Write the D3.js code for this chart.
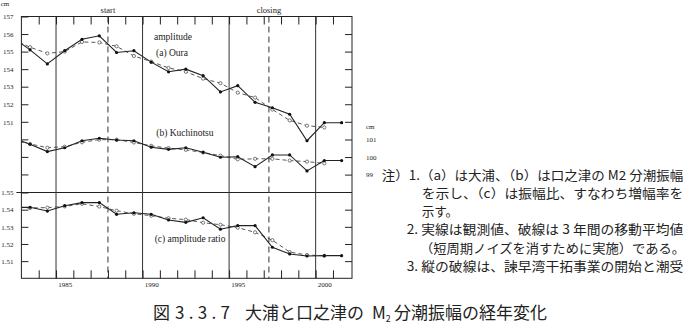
<!DOCTYPE html>
<html>
<head>
<meta charset="utf-8">
<script src="https://cdn.jsdelivr.net/npm/d3@7"></script>
<style>
  body { margin: 0; background: #fff; }
  svg { display: block; }
  .ax text { font-family: "Liberation Serif", "DejaVu Serif", serif; font-size: 7px; fill: #222; }
  .ax line { stroke: #222; }
  .lbl { font-family: "Liberation Serif", "DejaVu Serif", serif; font-size: 9.5px; fill: #222; }
  .jp { font-family: "Noto Sans CJK JP", sans-serif; fill: #222; }
</style>
</head>
<body>
<div id="grafico"></div>
<script>
// --- data (mid-year positions) ---
const years = [1982.5, 1983.5, 1984.5, 1985.5, 1986.5, 1987.5, 1988.5, 1989.5, 1990.5, 1991.5,
               1992.5, 1993.5, 1994.5, 1995.5, 1996.5, 1997.5, 1998.5, 1999.5, 2000.5, 2001.5];

// (a) Oura amplitude, cm
const ouraObs = [155.8, 155.1, 154.3, 155.05, 155.7, 155.9, 154.95, 155.05, 154.4, 153.85,
                 154.0, 153.63, 152.7, 153.06, 152.11, 151.8, 151.43, 149.92, 150.95, 150.95];
const ouraAvg = [155.7, 155.25, 154.9, 155.0, 155.55, 155.52, 155.3, 154.75, 154.43, 154.07,
                 153.85, 153.46, 153.2, 152.66, 152.38, 151.7, 151.08, 150.78, 150.68, null];

// (b) Kuchinotsu amplitude, cm
const kuchiObs = [101.1, 100.73, 100.31, 100.53, 100.93, 101.07, 100.97, 100.93, 100.56, 100.44,
                  100.53, 100.27, 99.99, 100.02, 99.45, 100.12, 100.12, 99.21, 99.8, 99.8];
const kuchiAvg = [100.95, 100.75, 100.53, 100.59, 100.84, 100.99, 100.99, 100.83, 100.64, 100.51,
                  100.41, 100.26, 100.08, 99.87, 99.9, 99.9, 99.8, 99.74, 99.64, null];

// (c) amplitude ratio
const ratioObs = [1.5413, 1.5414, 1.5392, 1.5423, 1.5441, 1.5441, 1.5373, 1.5382, 1.5373, 1.5340,
                  1.5326, 1.5353, 1.5286, 1.5307, 1.5307, 1.5181, 1.5142, 1.5130, 1.5132, 1.5132];
const ratioAvg = [1.5415, 1.5410, 1.5412, 1.5419, 1.5434, 1.5418, 1.5394, 1.5376, 1.5365, 1.5350,
                  1.5342, 1.5324, 1.5312, 1.5295, 1.5268, 1.5222, 1.5153, 1.5136, 1.5131, null];

// axis ticks and labels
const yearTicks   = [1984, 1985, 1986, 1987, 1988, 1989, 1990, 1991, 1992, 1993,
                     1994, 1995, 1996, 1997, 1998, 1999, 2000, 2001];
const yearLabels  = ["1985", "1990", "1995", "2000"];
const yearLabelAt = [1985.5, 1990.5, 1995.5, 2000.5];
const gridYears   = [1985, 1990, 1995, 2000];
const eventYears  = [1988.0, 1997.3];
const eventLabels = ["start", "closing"];
const ouraTicks   = [151, 152, 153, 154, 155, 156, 157];
const ouraExtra   = [148, 149, 150];
const kuchiTicks  = [99, 100, 101];
const ratioTicks  = [1.51, 1.52, 1.53, 1.54, 1.55];

const notes = [
  "注）1.（a）は大浦、（b）は口之津の M2 分潮振幅",
  "を示し、（c）は振幅比、すなわち増幅率を",
  "示す。",
  "2. 実線は観測値、破線は 3 年間の移動平均値",
  "（短周期ノイズを消すために実施）である。",
  "3. 縦の破線は、諫早湾干拓事業の開始と潮受"
];

// --- layout ---
const W = 689, H = 323;
const frame = { left: 21.4, right: 352, top: 16.5, bottom: 278.3 };

const svg = d3.select("#grafico")
              .append("svg")
              .attr("width", W)
              .attr("height", H);

const x = d3.scaleLinear().domain([1983, 2002.1]).range([frame.left, frame.right]);
const yA = d3.scaleLinear().domain([151, 157]).range([121.8, frame.top]);
const yB = d3.scaleLinear().domain([99, 101]).range([174.6, 139.5]);
const yC = d3.scaleLinear().domain([1.50, 1.55]).range([frame.bottom, 192.5]);

svg.append("defs").append("clipPath").attr("id", "clip")
   .append("rect")
   .attr("x", frame.left).attr("y", frame.top)
   .attr("width", frame.right - frame.left)
   .attr("height", frame.bottom - frame.top);

// frame
svg.append("rect")
   .attr("x", frame.left).attr("y", frame.top)
   .attr("width", frame.right - frame.left)
   .attr("height", frame.bottom - frame.top)
   .attr("fill", "none").attr("stroke", "#222").attr("stroke-width", 1);

// panel separator at 1.55
svg.append("line")
   .attr("x1", frame.left - 5).attr("x2", frame.right)
   .attr("y1", yC(1.55)).attr("y2", yC(1.55))
   .attr("stroke", "#222").attr("stroke-width", 1);

// 5-year solid verticals
svg.append("g").selectAll("line")
   .data(gridYears).join("line")
   .attr("x1", d => x(d)).attr("x2", d => x(d))
   .attr("y1", frame.top).attr("y2", frame.bottom)
   .attr("stroke", "#333").attr("stroke-width", 1);

// event dashed verticals
svg.append("g").selectAll("line")
   .data(eventYears).join("line")
   .attr("x1", d => x(d)).attr("x2", d => x(d))
   .attr("y1", frame.top).attr("y2", frame.bottom)
   .attr("stroke", "#333").attr("stroke-width", 1)
   .attr("stroke-dasharray", "6,4");

svg.append("g").selectAll("text")
   .data(eventYears).join("text")
   .attr("class", "lbl")
   .attr("x", d => x(d)).attr("y", 12.5)
   .attr("text-anchor", "middle")
   .style("font-size", "8.5px")
   .text((d, i) => eventLabels[i]);

// top / bottom inward ticks
const tidy = g => { g.select(".domain").remove(); g.attr("class", "ax"); };

svg.append("g")
   .attr("transform", `translate(0, ${frame.bottom})`)
   .call(d3.axisBottom(x).tickValues(yearTicks).tickSizeInner(-8).tickSizeOuter(0).tickFormat(""))
   .call(tidy);

svg.append("g")
   .attr("transform", `translate(0, ${frame.top})`)
   .call(d3.axisTop(x).tickValues(yearTicks).tickSizeInner(-8).tickSizeOuter(0).tickFormat(""))
   .call(tidy);

svg.append("g")
   .attr("transform", `translate(0, ${frame.bottom})`)
   .call(d3.axisBottom(x).tickValues(yearLabelAt).tickSize(0).tickPadding(4)
           .tickFormat((d, i) => yearLabels[i]))
   .call(tidy);

// left axes
svg.append("g")
   .attr("transform", `translate(${frame.left}, 0)`)
   .call(d3.axisLeft(yA).tickValues(ouraTicks).tickSizeInner(-7).tickSizeOuter(0).tickPadding(8)
           .tickFormat(d3.format("d")))
   .call(tidy);

svg.append("g")
   .attr("transform", `translate(${frame.left}, 0)`)
   .call(d3.axisLeft(yA).tickValues(ouraExtra).tickSizeInner(-7).tickSizeOuter(0).tickFormat(""))
   .call(tidy);

svg.append("g")
   .attr("transform", `translate(${frame.left}, 0)`)
   .call(d3.axisLeft(yC).tickValues(ratioTicks).tickSizeInner(-7).tickSizeOuter(0).tickPadding(8)
           .tickFormat(d3.format(".2f")))
   .call(tidy);

// right axes
svg.append("g")
   .attr("transform", `translate(${frame.right}, 0)`)
   .call(d3.axisRight(yA).tickValues(ouraTicks.slice(0, 6)).tickSizeInner(-7).tickSizeOuter(0).tickFormat(""))
   .call(tidy);

svg.append("g")
   .attr("transform", `translate(${frame.right}, 0)`)
   .call(d3.axisRight(yB).tickValues(kuchiTicks).tickSizeInner(-7).tickSizeOuter(0).tickPadding(14)
           .tickFormat(d3.format("d")))
   .call(tidy);

svg.append("g")
   .attr("transform", `translate(${frame.right}, 0)`)
   .call(d3.axisRight(yC).tickValues(ratioTicks.slice(0, 4)).tickSizeInner(-7).tickSizeOuter(0).tickFormat(""))
   .call(tidy);

// unit labels
svg.append("text").attr("x", 5).attr("y", 6)
   .attr("text-anchor", "middle")
   .style("font-family", "Liberation Serif, serif").style("font-size", "7px").attr("fill", "#222")
   .text("cm");
svg.append("text").attr("x", frame.right + 14).attr("y", yB(101) - 10.5)
   .style("font-family", "Liberation Serif, serif").style("font-size", "7px").attr("fill", "#222")
   .text("cm");

// series
const plot = svg.append("g").attr("clip-path", "url(#clip)");

const series = [
  { obs: ouraObs,  avg: ouraAvg,  y: yA },
  { obs: kuchiObs, avg: kuchiAvg, y: yB },
  { obs: ratioObs, avg: ratioAvg, y: yC }
];

series.forEach(s => {
  const line = d3.line()
                 .defined(d => d != null)
                 .x((d, i) => x(years[i]))
                 .y(d => s.y(d));

  plot.append("path")
      .datum(s.avg)
      .attr("d", line)
      .attr("fill", "none")
      .attr("stroke", "#444")
      .attr("stroke-width", 0.9)
      .attr("stroke-dasharray", "4,3");

  plot.append("path")
      .datum(s.obs)
      .attr("d", line)
      .attr("fill", "none")
      .attr("stroke", "#222")
      .attr("stroke-width", 1.1);

  plot.append("g").selectAll("circle")
      .data(s.avg.map((v, i) => ({ v, yr: years[i] })).filter(d => d.v != null))
      .join("circle")
      .attr("cx", d => x(d.yr))
      .attr("cy", d => s.y(d.v))
      .attr("r", 1.6)
      .attr("fill", "#fff")
      .attr("stroke", "#444")
      .attr("stroke-width", 0.7);

  plot.append("g").selectAll("circle")
      .data(s.obs.map((v, i) => ({ v, yr: years[i] })))
      .join("circle")
      .attr("cx", d => x(d.yr))
      .attr("cy", d => s.y(d.v))
      .attr("r", 1.6)
      .attr("fill", "#111");
});

// panel labels
const panelText = [
  { t: "amplitude",            x: 154,   y: 39.5 },
  { t: "(a) Oura",             x: 156,   y: 55.5 },
  { t: "(b) Kuchinotsu",       x: 156.3, y: 135.5 },
  { t: "(c) amplitude ratio",  x: 154.7, y: 242 }
];
svg.append("g").selectAll("text")
   .data(panelText).join("text")
   .attr("class", "lbl")
   .attr("x", d => d.x).attr("y", d => d.y)
   .text(d => d.t);

// notes (Japanese)
const noteX  = [381.7, 421.7, 421.7, 406.7, 420, 406.7];
const noteY  = [179.6, 198, 216, 234.3, 253, 271.4];
const noteW  = [301.6, 261.6, null, 276.6, 265, 276.6];
svg.append("g").selectAll("text")
   .data(notes).join("text")
   .attr("class", "jp")
   .style("font-size", "12.6px")
   .attr("x", (d, i) => noteX[i])
   .attr("y", (d, i) => noteY[i])
   .each(function(d, i) {
     if (noteW[i]) d3.select(this).attr("textLength", noteW[i]).attr("lengthAdjust", "spacingAndGlyphs");
   })
   .text(d => d);

// caption
const cap = svg.append("text").attr("class", "jp").style("font-size", "17px").attr("y", 318.5);
cap.append("tspan").attr("x", 153).text("図");
cap.append("tspan").attr("x", 175).attr("textLength", 55).attr("lengthAdjust", "spacing").text("3.3.7");
cap.append("tspan").attr("x", 245).text("大浦と口之津の");
cap.append("tspan").attr("x", 372).text("M");
cap.append("tspan").attr("dy", 3).style("font-size", "9px").text("2");
cap.append("tspan").attr("x", 394).attr("dy", -3).text("分潮振幅の経年変化");
</script>
</body>
</html>
